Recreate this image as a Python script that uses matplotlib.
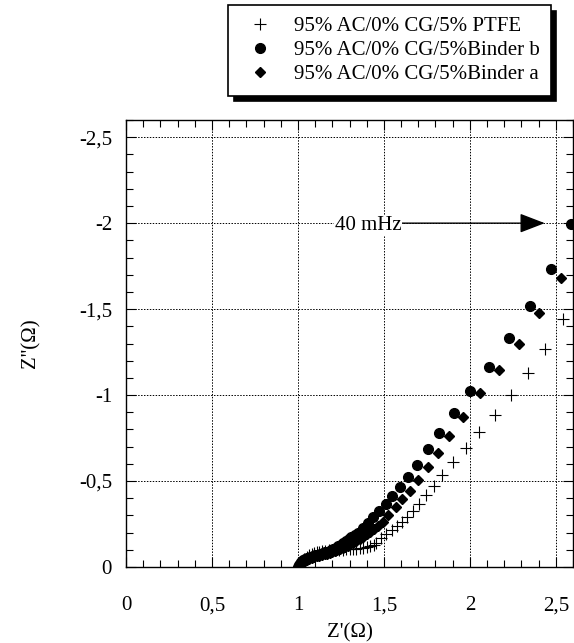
import matplotlib
matplotlib.use("Agg")
import matplotlib.pyplot as plt
from matplotlib.ticker import MultipleLocator, FuncFormatter
from matplotlib.lines import Line2D

plt.rcParams['font.family'] = ['Liberation Serif', 'DejaVu Serif']

# PTFE (crosses)
ptfe_x = [1.00, 1.01, 1.02, 1.035, 1.05, 1.065, 1.08, 1.095, 1.11, 1.125, 1.14, 1.16, 1.18, 1.20,
          1.22, 1.24, 1.26, 1.28, 1.30, 1.32, 1.34, 1.36, 1.38, 1.40, 1.42, 1.44, 1.457, 1.486,
          1.515, 1.545, 1.575, 1.605, 1.636, 1.671, 1.706, 1.746, 1.791, 1.84, 1.903, 1.975,
          2.052, 2.149, 2.242, 2.339, 2.44, 2.543]
ptfe_y = [0.0, 0.015, 0.03, 0.045, 0.058, 0.068, 0.076, 0.082, 0.087, 0.09, 0.093, 0.095, 0.097, 0.098,
          0.099, 0.10, 0.101, 0.102, 0.103, 0.104, 0.106, 0.108, 0.111, 0.115, 0.12, 0.128, 0.141, 0.167,
          0.192, 0.215, 0.24, 0.262, 0.292, 0.327, 0.366, 0.417, 0.471, 0.533, 0.609, 0.69,
          0.785, 0.882, 1.0, 1.126, 1.266, 1.44]

# Binder b (circles)
binb_x = [1.00, 1.005, 1.01, 1.02, 1.03, 1.04, 1.055, 1.07, 1.085, 1.10, 1.115, 1.13, 1.145, 1.16,
          1.175, 1.19, 1.205, 1.22, 1.235, 1.25, 1.265, 1.28, 1.295, 1.31, 1.33, 1.349, 1.376, 1.407,
          1.438, 1.473, 1.512, 1.55, 1.593, 1.643, 1.694, 1.756, 1.820, 1.909, 1.998, 2.109, 2.227,
          2.349, 2.473, 2.59]
binb_y = [0.0, 0.01, 0.02, 0.03, 0.04, 0.048, 0.055, 0.06, 0.065, 0.068, 0.072, 0.076, 0.08, 0.085,
          0.09, 0.096, 0.103, 0.11, 0.12, 0.13, 0.14, 0.15, 0.16, 0.172, 0.185, 0.20, 0.227, 0.258,
          0.289, 0.324, 0.366, 0.413, 0.467, 0.521, 0.595, 0.684, 0.781, 0.897, 1.025, 1.165, 1.331,
          1.517, 1.733, 1.994]

# Binder a (diamonds)
bina_x = [1.00, 1.01, 1.02, 1.035, 1.05, 1.065, 1.08, 1.095, 1.11, 1.125, 1.14, 1.155, 1.17, 1.185,
          1.20, 1.215, 1.23, 1.245, 1.26, 1.275, 1.29, 1.305, 1.32, 1.34, 1.36, 1.38, 1.40, 1.42,
          1.445, 1.468, 1.492, 1.525, 1.57, 1.608, 1.651, 1.70, 1.754, 1.814, 1.880, 1.963, 2.06,
          2.169, 2.283, 2.403, 2.533]
bina_y = [0.0, 0.01, 0.02, 0.03, 0.04, 0.047, 0.053, 0.058, 0.062, 0.066, 0.07, 0.074, 0.078, 0.082,
          0.087, 0.092, 0.098, 0.104, 0.11, 0.117, 0.124, 0.132, 0.14, 0.15, 0.162, 0.175, 0.19, 0.205,
          0.222, 0.24, 0.264, 0.302, 0.347, 0.394, 0.444, 0.506, 0.58, 0.665, 0.762, 0.870, 1.01,
          1.145, 1.30, 1.479, 1.682]

labels = ["95% AC/0% CG/5% PTFE", "95% AC/0% CG/5%Binder b", "95% AC/0% CG/5%Binder a"]

fig = plt.figure(figsize=(5.74, 6.43), dpi=100)
ax = fig.add_axes([126/574, 1 - 567/643, 447/574, 447/643])

ax.plot(ptfe_x, [-v for v in ptfe_y], ls='none', marker='+', ms=8, mew=0.8, color='black')
ax.plot(binb_x, [-v for v in binb_y], ls='none', marker='o', ms=7, color='black')
ax.plot(bina_x, [-v for v in bina_y], ls='none', marker='D', ms=5, color='black')

ax.set_xlim(0, 2.6)
ax.set_ylim(0, -2.6)
ax.xaxis.set_major_locator(MultipleLocator(0.5))
ax.xaxis.set_minor_locator(MultipleLocator(0.1))
ax.yaxis.set_major_locator(MultipleLocator(0.5))
ax.yaxis.set_minor_locator(MultipleLocator(0.1))

def fmt(v, pos):
    if abs(v) < 1e-9:
        return "0"
    return ("%g" % v).replace('.', ',')
ax.xaxis.set_major_formatter(FuncFormatter(fmt))
ax.yaxis.set_major_formatter(FuncFormatter(fmt))

ax.tick_params(which='both', direction='in', top=True, right=True, labelsize=15, width=0.8)
ax.tick_params(axis='x', which='major', pad=21)
ax.tick_params(axis='y', which='major', pad=10)
ax.tick_params(which='major', length=7)
ax.tick_params(which='minor', length=5)
ax.grid(True, which='major', ls=(0, (1.5, 1.5)), color='black', lw=0.7)
for sp in ax.spines.values():
    sp.set_linewidth(1.0)

ax.set_xlabel("Z'(Ω)", fontsize=15, labelpad=6)
ax.set_ylabel("Z''(Ω)", fontsize=15, labelpad=28)

ax.annotate("", xy=(2.436, -2.0), xytext=(1.6, -2.0),
            arrowprops=dict(arrowstyle='-|>,head_length=1.3,head_width=0.5', color='black', lw=1.0,
                            shrinkA=0, shrinkB=0, mutation_scale=12))
ax.text(1.215, -1.985, "40 mHz", fontsize=15, ha='left', va='center',
        bbox=dict(facecolor='white', edgecolor='none', pad=0.5))

handles = [Line2D([], [], ls='none', marker='+', ms=8, mew=0.8, color='black'),
           Line2D([], [], ls='none', marker='o', ms=7, color='black'),
           Line2D([], [], ls='none', marker='D', ms=5, color='black')]
leg = fig.legend(handles, labels, loc='upper left', bbox_to_anchor=(228/574, 1 - 5/643),
                 fontsize=15, frameon=True, fancybox=False, handlelength=2.0, handletextpad=0.6,
                 labelspacing=0.22, borderpad=0.55, borderaxespad=0,
                 shadow={'ox': 4, 'oy': -4, 'color': 'black', 'alpha': 1})
leg.get_frame().set_edgecolor('black')
leg.get_frame().set_linewidth(1.2)

fig.savefig("out.png", dpi=100)
